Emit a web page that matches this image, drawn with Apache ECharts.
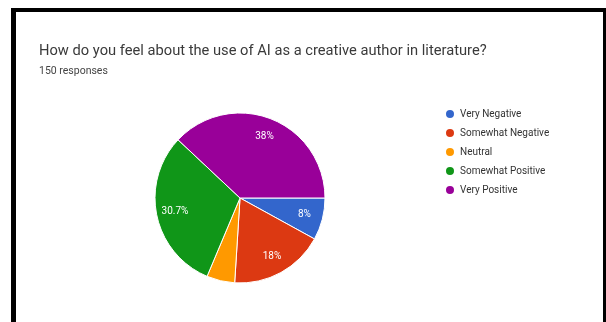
<!DOCTYPE html>
<html>
<head>
<meta charset="utf-8">
<script src="https://cdn.jsdelivr.net/npm/echarts@6/dist/echarts.min.js"></script>
<style>
  html, body { margin: 0; padding: 0; background: #fff; }
  #chart { width: 606px; height: 322px; }
</style>
</head>
<body>
<div id="chart"></div>
<script>
// Survey question and answer counts (150 responses)
const questionText = 'How do you feel about the use of AI as a creative author in literature?';
const responseText = '150 responses';
const categories = ['Very Negative', 'Somewhat Negative', 'Neutral', 'Somewhat Positive', 'Very Positive'];
const counts = [12, 27, 8, 46, 57];
const colors = ['#3366cc', '#dc3912', '#ff9900', '#109618', '#990099'];

const total = counts.reduce((a, b) => a + b, 0);
// Slices smaller than this share get no inside label
const minLabelShare = 0.06;

const pieData = categories.map((name, i) => ({ name, value: counts[i] }));
const labelData = categories.map((name, i) => ({
  name,
  value: counts[i],
  label: { show: counts[i] / total >= minLabelShare }
}));

const chart = echarts.init(document.getElementById('chart'), null, { renderer: 'canvas' });
chart.setOption({
  animation: false,
  color: colors,
  textStyle: { fontFamily: 'Roboto, Arial, sans-serif' },
  title: [
    {
      text: questionText,
      left: 39, top: 44, padding: 0,
      textStyle: { fontSize: 14.7, fontWeight: 'normal', color: '#3a3a3a', fontFamily: 'Roboto, Arial, sans-serif' }
    },
    {
      text: responseText,
      left: 39, top: 66, padding: 0,
      textStyle: { fontSize: 10.5, fontWeight: 'normal', color: '#444', fontFamily: 'Roboto, Arial, sans-serif' }
    }
  ],
  legend: {
    orient: 'vertical',
    left: 444, top: 108, padding: 0,
    itemGap: 7,
    icon: 'circle',
    itemWidth: 10, itemHeight: 10,
    data: categories,
    textStyle: { fontSize: 10, color: '#333', fontFamily: 'Roboto, Arial, sans-serif' }
  },
  graphic: [
    // black frame: top, left and right edges
    { type: 'rect', shape: { x: 11, y: 8, width: 595, height: 4 }, style: { fill: '#000' } },
    { type: 'rect', shape: { x: 11, y: 8, width: 5, height: 314 }, style: { fill: '#000' } },
    { type: 'rect', shape: { x: 603, y: 8, width: 3, height: 314 }, style: { fill: '#000' } }
  ],
  series: [
    {
      type: 'pie',
      center: [240, 198],
      radius: 85,
      startAngle: 0,
      clockwise: true,
      data: pieData,
      label: { show: false },
      labelLine: { show: false },
      itemStyle: { borderColor: '#fff', borderWidth: 1 },
      emphasis: { disabled: true }
    },
    {
      // transparent ring carrying the percentage labels
      type: 'pie',
      center: [240, 198],
      radius: [42, 85],
      startAngle: 0,
      clockwise: true,
      silent: true,
      legendHoverLink: false,
      percentPrecision: 1,
      data: labelData,
      itemStyle: { color: 'rgba(0,0,0,0)' },
      label: {
        position: 'inside',
        formatter: '{d}%',
        color: '#fff',
        fontSize: 10,
        fontFamily: 'Roboto, Arial, sans-serif'
      },
      labelLine: { show: false },
      emphasis: { disabled: true }
    }
  ]
});
</script>
</body>
</html>
